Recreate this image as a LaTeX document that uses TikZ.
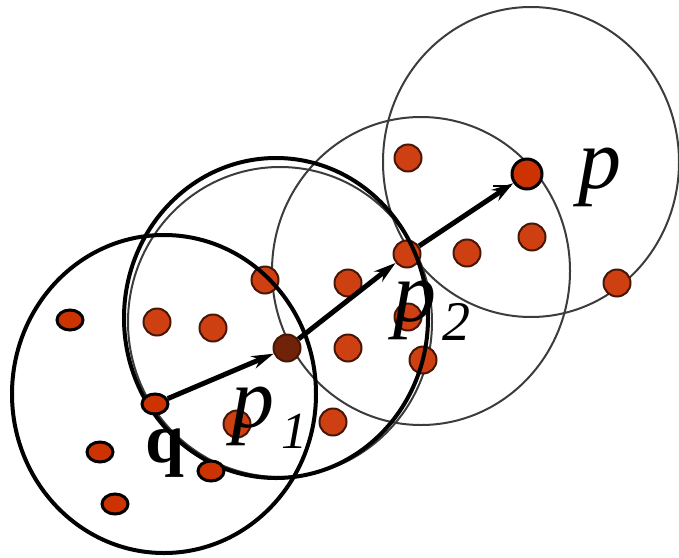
\documentclass[tikz,border=0pt]{standalone}
\usepackage{fontspec}
\setmainfont{Liberation Serif}
\usetikzlibrary{arrows.meta, shapes.geometric, positioning}
\definecolor{dotred}{RGB}{206,64,18}
\definecolor{ptred}{RGB}{204,51,0}
\definecolor{ringgray}{RGB}{60,60,60}

\begin{document}
\begin{tikzpicture}[
    x=0.5pt, y=-0.5pt,
    >={Stealth[length=11pt,width=6.5pt]},
    dot/.style={
        circle,
        fill=dotred,
        draw=dotred!35!black,
        line width=1pt,
        minimum size=13.5pt,
        inner sep=0pt
    },
    pt/.style={
        ellipse,
        fill=ptred,
        draw=black,
        line width=1.5pt,
        minimum width=13pt,
        minimum height=10pt,
        inner sep=0pt
    },
    ring/.style={draw=ringgray, line width=1pt},
    bigring/.style={draw=black, line width=2pt},
    arr/.style={->, line width=2.5pt},
    lbl/.style={
        inner sep=0pt,
        anchor=base west,
        font=\fontsize{43}{43}\selectfont\itshape
    }
]
    \useasboundingbox (0,0) rectangle (679,557);

    % thin neighbourhoods
    \draw[ring] (280,322) ellipse [x radius=152, y radius=155];
    \draw[ring] (421,271) ellipse [x radius=149, y radius=154];
    \draw[ring] (531,162) ellipse [x radius=148, y radius=155];

    % points of the data set
    \foreach \n/\x/\y in {d1/157/322, d2/213/328, d3/265/280, d4/237/424,
                          d5/333/422, d6/348/283, d7/348/348, d8/408/158,
                          d9/467/253, d10/532/237, d11/617/283, d12/408/317,
                          d13/423/360}
        \node[dot] (\n) at (\x,\y) {};
    \node[dot, fill=dotred!55!black] (p1) at (287,348) {};
    \node[dot] (p2) at (407,254) {};

    % bold neighbourhoods
    \draw[bigring] (164,394) ellipse [x radius=152, y radius=159];
    \draw[bigring] (276,318) ellipse [x radius=152, y radius=160];

    % labels
    \node[lbl] (lp) at (578,188) {p};
    \node[lbl] (lp2) at (393,321) {p\kern3pt\raisebox{-9.5pt}{\fontsize{28}{28}\selectfont 2}};
    \node[lbl] (lp1) at (231,427) {p\kern3.5pt\raisebox{-10.5pt}{\fontsize{26}{26}\selectfont 1}};
    \node[lbl, font=\fontsize{35}{35}\selectfont\bfseries] (lq) at (145,462) {q};

    % outlined points
    \foreach \n/\x/\y in {o1/70/320, o2/100/452, o3/115/504, o4/211/471}
        \node[pt] (\n) at (\x,\y) {};
    \node[pt] (q) at (155,404) {};
    \node[pt, minimum width=15pt, minimum height=15pt] (p) at (527,174) {};

    % chain q -> p1 -> p2 -> p
    \draw[arr] (q) -- (p1);
    \draw[arr] (p1) -- (p2);
    \draw[arr] (p2) -- (p);
    \coordinate (tick) at (493,186);
    \draw[line width=1pt] (tick) -- ++(18,0);
\end{tikzpicture}
\end{document}
